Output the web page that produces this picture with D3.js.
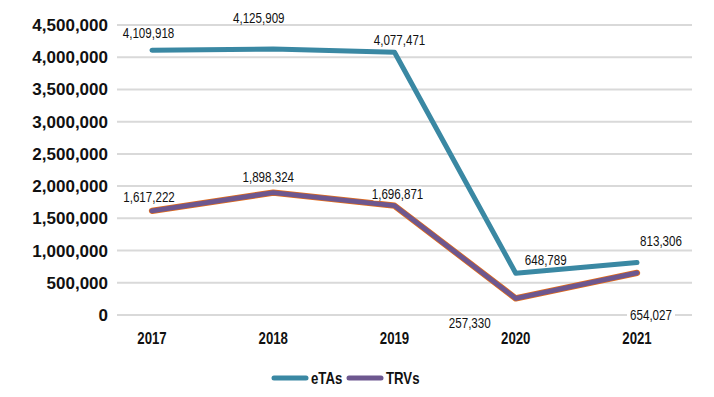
<!DOCTYPE html>
<html>
<head>
<meta charset="utf-8">
<script src="https://cdn.jsdelivr.net/npm/d3@7"></script>
<style>
  body { margin: 0; background: #fff; }
  .tick-y { font-family: "Liberation Sans", Arial, sans-serif; font-weight: bold; font-size: 17px; fill: #111; }
  .tick-x, .legend-text { font-family: "Liberation Sans", Arial, sans-serif; font-weight: bold; font-size: 16.5px; fill: #111; }
  .val { font-family: "Liberation Sans", Arial, sans-serif; font-size: 14.5px; fill: #111; }
</style>
</head>
<body>
<div id="chart"></div>
<script>
const years = ['2017', '2018', '2019', '2020', '2021']
const etas = [4109918, 4125909, 4077471, 648789, 813306]
const trvs = [1617222, 1898324, 1696871, 257330, 654027]
const yTicks = [0, 500000, 1000000, 1500000, 2000000, 2500000, 3000000, 3500000, 4000000, 4500000]

// label centre offsets from the point (dx, dy)
const etaLabelPos = [[-3.5, -17], [-14.5, -31], [5, -12], [30, -13], [24, -22]]
const trvLabelPos = [[-3, -14], [-5, -16], [3, -12], [-46, 25], [14, 42]]

const width = 714, height = 397
const margin = {left: 117, right: 22, top: 25, bottom: 82}
const squeeze = 0.8

const svg = d3.select('#chart')
.append('svg')
.attr('width', width)
.attr('height', height)

const xScale = d3.scalePoint()
.domain(years)
.range([152, 637])

const yScale = d3.scaleLinear()
.domain([0, 4500000])
.range([height - margin.bottom, margin.top])

const fmt = d3.format(',')

// gridlines
svg.append('g')
.selectAll('line')
.data(yTicks)
.enter()
.append('line')
.attr('x1', margin.left)
.attr('x2', width - margin.right)
.attr('y1', d => yScale(d))
.attr('y2', d => yScale(d))
.attr('stroke', '#d9d9d9')
.attr('stroke-width', 2)

// y labels
svg.append('g')
.selectAll('text')
.data(yTicks)
.enter()
.append('text')
.attr('class', 'tick-y')
.attr('x', 108)
.attr('y', d => yScale(d) + 6)
.attr('text-anchor', 'end')
.text(d => fmt(d))

// x labels
svg.append('g')
.selectAll('text')
.data(years)
.enter()
.append('text')
.attr('class', 'tick-x')
.attr('transform', d => `translate(${xScale(d)},344) scale(${squeeze},1)`)
.attr('text-anchor', 'middle')
.text(d => d)

const line = d3.line()
.x((d, i) => xScale(years[i]))
.y(d => yScale(d))

svg.append('path')
.attr('d', line(etas))
.attr('fill', 'none')
.attr('stroke', '#3a88a3')
.attr('stroke-width', 5)
.attr('stroke-linecap', 'round')
.attr('stroke-linejoin', 'round')

svg.append('path')
.attr('d', line(trvs))
.attr('fill', 'none')
.attr('stroke', '#e46c1a')
.attr('stroke-width', 6.3)
.attr('stroke-linecap', 'round')
.attr('stroke-linejoin', 'round')

svg.append('path')
.attr('d', line(trvs))
.attr('fill', 'none')
.attr('stroke', '#6d578f')
.attr('stroke-width', 4.8)
.attr('stroke-linecap', 'round')
.attr('stroke-linejoin', 'round')

// value labels
const addLabels = (vals, pos, boxed) => {
	const g = svg.append('g')
	.selectAll('g')
	.data(vals)
	.enter()
	.append('g')
	.attr('transform', (d, i) => `translate(${xScale(years[i]) + pos[i][0]},${yScale(d) + pos[i][1]})`)
	if (boxed) {
		g.append('rect')
		.attr('x', -24).attr('y', -7)
		.attr('width', 48).attr('height', 14)
		.attr('fill', '#fff')
	}
	g.append('text')
	.attr('class', 'val')
	.attr('transform', `translate(0,5) scale(${squeeze},1)`)
	.attr('text-anchor', 'middle')
	.text(d => fmt(d))
}
addLabels(etas, etaLabelPos, false)
addLabels(trvs, trvLabelPos, true)

// legend
const legend = svg.append('g').attr('transform', 'translate(273,378)')
const items = [{name: 'eTAs', color: '#3a88a3', x: 0}, {name: 'TRVs', color: '#6d578f', x: 75}]
items.forEach(it => {
	legend.append('line')
	.attr('x1', it.x + 1).attr('x2', it.x + 33)
	.attr('y1', 0).attr('y2', 0)
	.attr('stroke', it.color)
	.attr('stroke-width', 5)
	.attr('stroke-linecap', 'round')
	legend.append('text')
	.attr('class', 'legend-text')
	.attr('transform', `translate(${it.x + 38},6) scale(${squeeze},1)`)
	.text(it.name)
})
</script>
</body>
</html>
